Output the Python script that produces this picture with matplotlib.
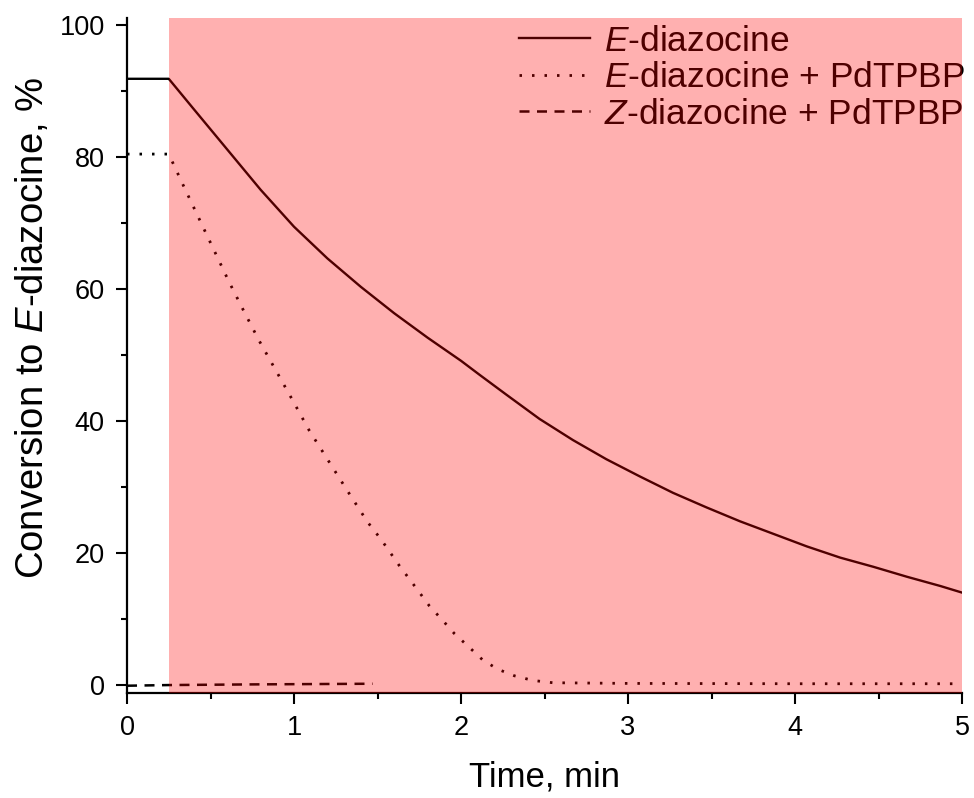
import numpy as np
import matplotlib
matplotlib.use("Agg")
import matplotlib.pyplot as plt
from matplotlib.ticker import MultipleLocator

plt.rcParams['font.family'] = ['Liberation Sans', 'DejaVu Sans']
plt.rcParams['mathtext.fontset'] = 'custom'
plt.rcParams['mathtext.rm'] = 'Liberation Sans'
plt.rcParams['mathtext.it'] = 'Liberation Sans:italic'

# E-diazocine alone (solid)
t_e = [0.0, 0.25, 0.40, 0.60, 0.80, 1.00, 1.20, 1.40, 1.60, 1.80, 2.00, 2.11,
       2.27, 2.47, 2.67, 2.87, 3.07, 3.27, 3.47, 3.67, 3.87, 4.07, 4.27, 4.47,
       4.67, 4.87, 5.00]
y_e = [91.8, 91.8, 87.2, 81.1, 75.0, 69.4, 64.6, 60.3, 56.3, 52.6, 49.1, 47.0,
       44.0, 40.3, 37.1, 34.2, 31.6, 29.1, 26.9, 24.8, 22.9, 21.0, 19.3, 17.9,
       16.4, 15.0, 14.0]

# E-diazocine + PdTPBP (dotted)
t_ep = [0.0, 0.25, 0.34, 0.43, 0.52, 0.61, 0.70, 0.79, 0.89, 0.99, 1.09, 1.21,
        1.31, 1.44, 1.52, 1.63, 1.74, 1.81, 1.89, 1.96, 2.05, 2.13, 2.22, 2.32,
        2.43, 2.55, 3.00, 4.00, 5.00]
y_ep = [80.4, 80.4, 75.5, 70.7, 65.9, 61.1, 56.6, 52.2, 47.7, 43.2, 38.6, 33.8,
        29.8, 24.7, 22.1, 18.1, 14.4, 12.0, 9.8, 7.8, 5.7, 3.8, 2.4, 1.4,
        0.7, 0.35, 0.25, 0.2, 0.2]

# Z-diazocine + PdTPBP (dashed)
t_zp = [0.0, 0.25, 0.75, 1.47]
y_zp = [-0.1, 0.0, 0.1, 0.2]

irr_start, irr_end = 0.25, 5.0

fig = plt.figure(figsize=(9.74, 7.98), dpi=100)
ax = fig.add_axes([0.1304, 0.1316, 0.8573, 0.8458])

ax.plot(t_e, y_e, color='black', lw=1.7, label=r'$\mathit{E}$-diazocine')
ax.plot(t_ep, y_ep, color='black', lw=2.0, linestyle=(0, (0.9, 3.6)),
        label=r'$\mathit{E}$-diazocine + PdTPBP')
ax.plot(t_zp, y_zp, color='black', lw=1.8, linestyle=(0, (4, 3)),
        label=r'$\mathit{Z}$-diazocine + PdTPBP')

ax.set_xlim(0, 5)
ax.set_ylim(-1.2, 101)
ax.xaxis.set_major_locator(MultipleLocator(1))
ax.xaxis.set_minor_locator(MultipleLocator(0.5))
ax.yaxis.set_major_locator(MultipleLocator(20))
ax.yaxis.set_minor_locator(MultipleLocator(10))

for side in ['top', 'right']:
    ax.spines[side].set_visible(False)
for side in ['left', 'bottom']:
    ax.spines[side].set_linewidth(1.6)
ax.tick_params(which='major', direction='out', length=8, width=1.5,
               labelsize=19.5, pad=8)
ax.tick_params(which='minor', direction='out', length=4, width=1.5)

ax.set_xlabel('Time, min', fontsize=25, labelpad=14)
ax.set_ylabel(r'Conversion to $\mathit{E}$-diazocine, %', fontsize=27.5)
ax.yaxis.set_label_coords(-0.091, 0.541)

leg = ax.legend(loc='upper right', bbox_to_anchor=(1.004, 0.990), fontsize=25.5,
                frameon=False, handlelength=2.0, handletextpad=0.4,
                labelspacing=0.1, borderpad=0.0, borderaxespad=0.0)
leg.set_zorder(3)

# irradiation window shaded over the traces
ax.axvspan(irr_start, irr_end, color='red', alpha=0.31, lw=0, zorder=10)

fig.savefig('out.png', dpi=100)
